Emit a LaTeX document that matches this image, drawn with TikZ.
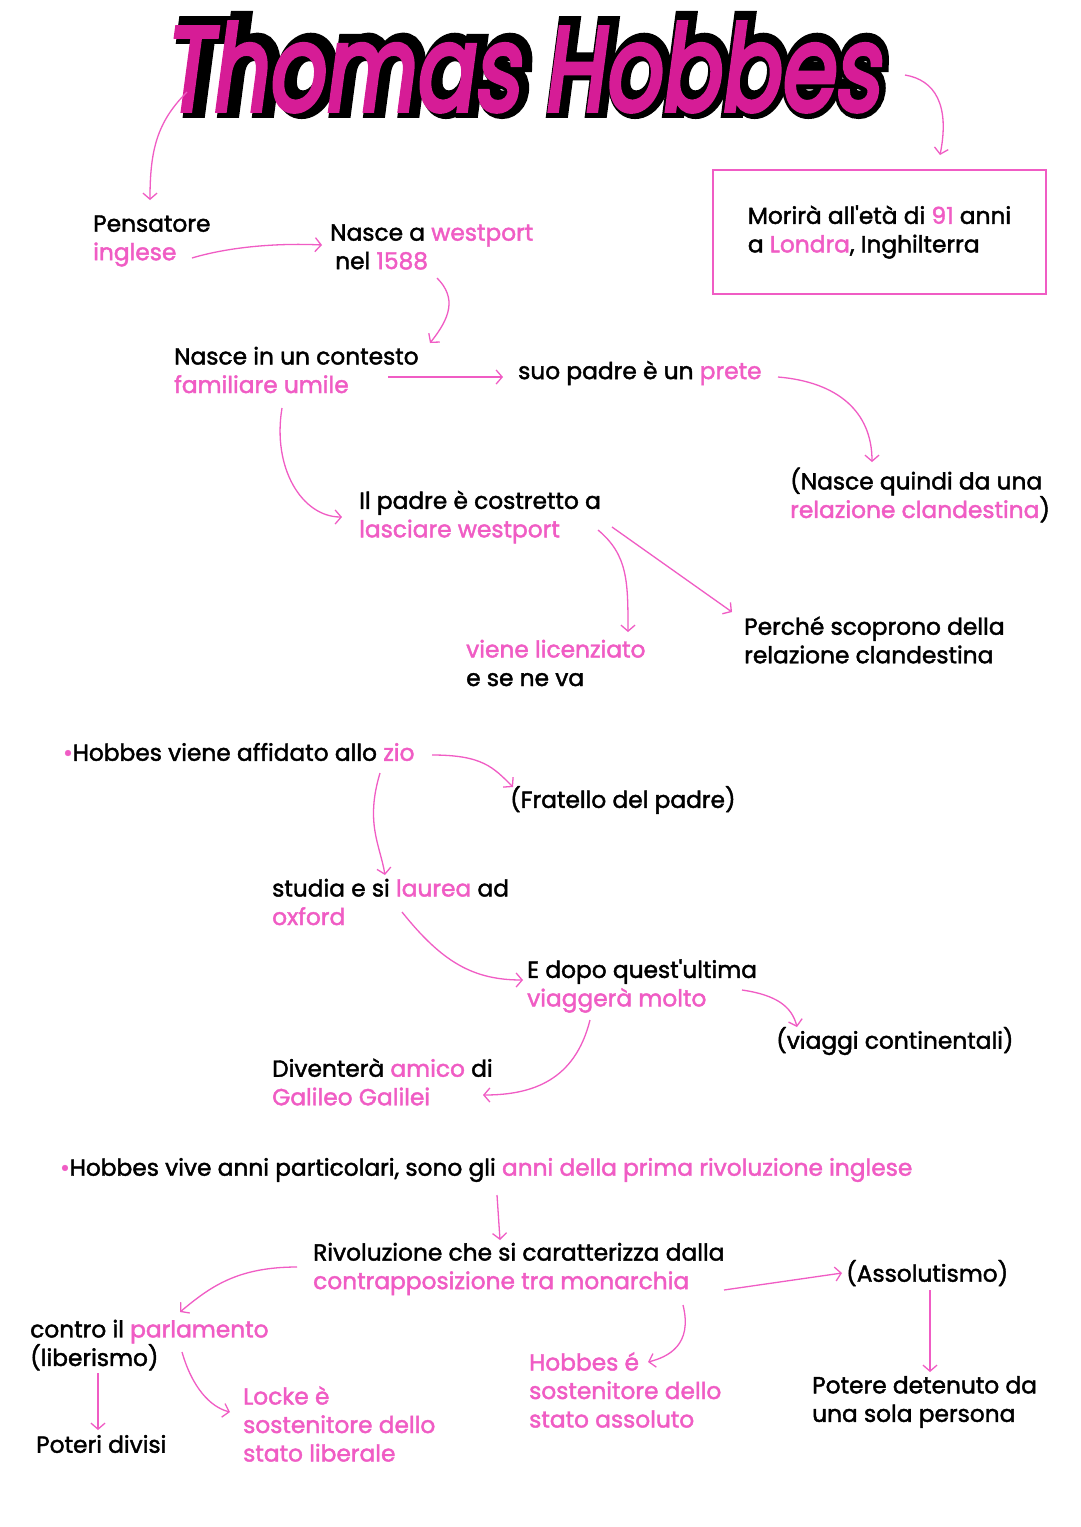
\documentclass[tikz,border=0pt]{standalone}
\usepackage{fontspec}
\setmainfont{Poppins}
\newfontfamily\mapfont{Poppins}[FakeBold=1.8]
\newfontfamily\titlein{Poppins}[FakeBold=4, FakeSlant=0.18]
\newfontfamily\titleout{Poppins}[FakeBold=16, FakeSlant=0.18]
\usepackage{tikz}
\usetikzlibrary{arrows.meta}
\definecolor{pk}{RGB}{240,92,196}
\definecolor{titlepk}{RGB}{214,28,150}
\newcommand{\pk}[1]{\textcolor{pk}{#1}}
\tikzset{
x=1pt, y=-1pt, % pixel like coordinates
txt/.style={anchor=west, inner sep=0pt, align=left, font=\mapfont\fontsize{23.3}{28.5}\selectfont}, % every text of the map
arr/.style={-{Straight Barb[length=6pt,width=14pt]}, pk, line width=1.3pt}, % the pink arrows
}
\begin{document}
\begin{tikzpicture}
	\useasboundingbox[fill=white] (0,0) rectangle (1080,1527);
	% title: black outline under the pink letters
	\node[font=\titleout\fontsize{88}{90}\selectfont, text=black] (titleback) at (526,65) {\scalebox{0.99}[1.35]{Thomas Hobbes}};
	\node[font=\titlein\fontsize{88}{90}\selectfont, text=titlepk] (title) at (521,67) {\scalebox{1}[1.35]{Thomas Hobbes}};
	% first block
	\node[txt] (pens) at (93,241) {Pensatore\\ \pk{inglese}};
	\node[txt] (nasce) at (330,247) {Nasce a \pk{westport}\\ \hspace{5pt}nel \pk{1588}};
	\node[draw=pk, line width=2pt, minimum width=333, minimum height=124, inner sep=0pt, align=left, font=\mapfont\fontsize{23.3}{28.5}\selectfont] (morte) at (879.5,232) {Morirà all'età di \pk{91} anni\\ a \pk{Londra}, Inghilterra};
	\node[txt] (cont) at (174,370) {Nasce in un contesto\\ \pk{familiare umile}};
	\node[txt] (padre) at (518,373) {suo padre è un \pk{prete}};
	\node[txt] (quindi) at (790,495) {(Nasce quindi da una\\ \pk{relazione clandestina})};
	\node[txt] (costr) at (359,517) {Il padre è costretto a\\ \pk{lasciare westport}};
	\node[txt] (lic) at (466,663) {\pk{viene licenziato}\\ e se ne va};
	\node[txt] (perche) at (744,640) {Perché scoprono della\\ relazione clandestina};
	% second block
	\node[txt] (zio) at (63,752) {\pk{\textbullet}Hobbes viene affidato allo \pk{zio}};
	\node[txt] (frat) at (510,800) {(Fratello del padre)};
	\node[txt] (stud) at (272,902) {studia e si \pk{laurea} ad\\ \pk{oxford}};
	\node[txt] (dopo) at (527,986) {E dopo quest'ultima\\ \pk{viaggerà molto}};
	\node[txt] (viag) at (776,1041) {(viaggi continentali)};
	\node[txt] (gal) at (272,1082) {Diventerà \pk{amico} di\\ \pk{Galileo Galilei}};
	% third block
	\node[txt] (vive) at (60,1170) {\pk{\textbullet}Hobbes vive anni particolari, sono gli \pk{anni della prima rivoluzione inglese}};
	\node[txt] (riv) at (313,1269) {Rivoluzione che si caratterizza dalla\\ \pk{contrapposizione tra monarchia}};
	\node[txt] (ass) at (846,1273) {(Assolutismo)};
	\node[txt] (pot) at (812,1402) {Potere detenuto da\\ una sola persona};
	\node[txt, text=pk] (hob) at (529,1390) {Hobbes é\\ sostenitore dello\\ stato assoluto};
	\node[txt] (parl) at (30,1345) {contro il \pk{parlamento}\\ (liberismo)};
	\node[txt] (divisi) at (36,1444) {Poteri divisi};
	\node[txt, text=pk] (locke) at (243,1424) {Locke è\\ sostenitore dello\\ stato liberale};
	% arrows
	\draw[arr] ([shift={(-334,25)}]title.center) .. controls +(-30,30) and +(0,-50) .. ([shift={(57,-41)}]pens.west);
	\draw[arr] ([shift={(384,8)}]title.center) .. controls +(30,5) and +(10,-50) .. ([shift={(60.5,-77)}]morte.center);
	\draw[arr] ([shift={(99,17)}]pens.west) .. controls +(40,-12) and +(-40,-2) .. ([shift={(-8,-2)}]nasce.west);
	\draw[arr] ([shift={(107,31)}]nasce.west) .. controls +(20,20) and +(20,-25) .. ([shift={(256,-27)}]cont.west);
	\draw[arr] ([shift={(214,7)}]cont.west) -- ([shift={(-15,4)}]padre.west);
	\draw[arr] ([shift={(260,4)}]padre.west) .. controls +(60,5) and +(0,-50) .. ([shift={(82,-33)}]quindi.west);
	\draw[arr] ([shift={(108,38)}]cont.west) .. controls +(-10,60) and +(-40,0) .. ([shift={(-17,0)}]costr.west);
	\draw[arr] ([shift={(239,13)}]costr.west) .. controls +(30,25) and +(0,-50) .. ([shift={(162,-31)}]lic.west);
	\draw[arr] ([shift={(253,10)}]costr.west) -- ([shift={(-12,-28)}]perche.west);
	\draw[arr] ([shift={(369,3)}]zio.west) .. controls +(50,0) and +(-20,-20) .. ([shift={(3,-13)}]frat.west);
	\draw[arr] ([shift={(317,21)}]zio.west) .. controls +(-15,50) and +(-5,-30) .. ([shift={(113,-27)}]stud.west);
	\draw[arr] ([shift={(130,10)}]stud.west) .. controls +(40,50) and +(-50,0) .. ([shift={(-4,-6)}]dopo.west);
	\draw[arr] ([shift={(215,4)}]dopo.west) .. controls +(35,5) and +(-5,-20) .. ([shift={(21,-14)}]viag.west);
	\draw[arr] ([shift={(63,34)}]dopo.west) .. controls +(-15,60) and +(50,0) .. ([shift={(211,13)}]gal.west);
	\draw[arr] ([shift={(437,25)}]vive.west) -- ([shift={(187,-29)}]riv.west);
	\draw[arr] ([shift={(-16,-2)}]riv.west) .. controls +(-60,0) and +(30,-25) .. ([shift={(150,-33)}]parl.west);
	\draw[arr] ([shift={(411,21)}]riv.west) -- ([shift={(-4,0)}]ass.west);
	\draw[arr] ([shift={(84,17)}]ass.west) -- ([shift={(118,-30)}]pot.west);
	\draw[arr] ([shift={(370,36)}]riv.west) .. controls +(10,40) and +(20,-5) .. ([shift={(119,-28)}]hob.west);
	\draw[arr] ([shift={(68,28)}]parl.west) -- ([shift={(62,-14)}]divisi.west);
	\draw[arr] ([shift={(152,7)}]parl.west) .. controls +(10,35) and +(-20,-5) .. ([shift={(-13,-12)}]locke.west);
\end{tikzpicture}
\end{document}
